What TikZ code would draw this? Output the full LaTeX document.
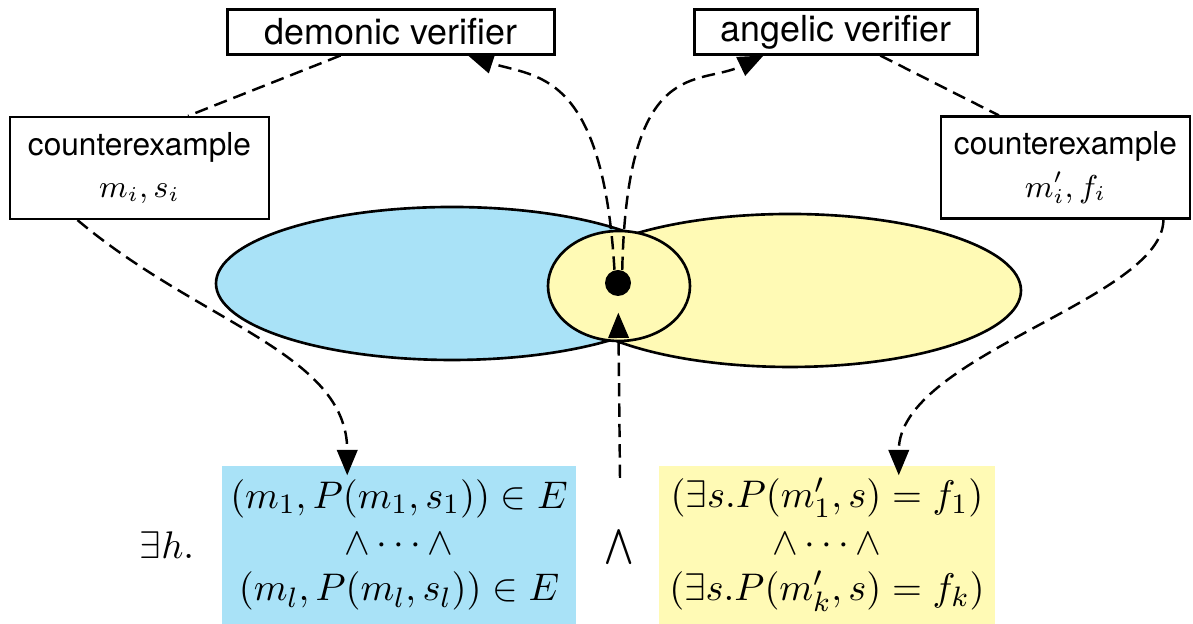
\documentclass[tikz,border=0pt]{standalone}
\usepackage{fontspec}
\setsansfont{TeX Gyre Heros}
\usetikzlibrary{arrows.meta}
\definecolor{setblue}{HTML}{A9E2F7}
\definecolor{setyellow}{HTML}{FFFAB5}

\begin{document}
\begin{tikzpicture}[
  x=0.1mm, y=0.1mm,
  vbox/.style={draw, line width=0.6pt, inner sep=0pt, minimum height=4.5mm,
               font=\fontsize{10.2}{12}\sffamily},
  cbox/.style={draw, line width=0.6pt, inner sep=0pt, align=center, minimum height=10.2mm,
               font=\fontsize{9}{12}\sffamily},
  formbox/.style={inner sep=0pt, align=center, minimum height=15.8mm,
                  font=\fontsize{10.95}{13.2}\selectfont},
  setline/.style={line width=0.75pt},
  dline/.style={line width=0.7pt, dash pattern=on 3.8pt off 2pt},
  dflow/.style={dline, -{Triangle[length=7.2pt, width=5.8pt]}}
]
\useasboundingbox (0,0) rectangle (1193,624);

% the two sets and their overlap
\draw[setline, fill=setblue]   (452,340.5) ellipse [x radius=236, y radius=76.5];
\draw[setline, fill=setyellow] (790,333.5) ellipse [x radius=231, y radius=76.5];
\draw[setline, fill=setyellow] (619,338)   ellipse [x radius=71, y radius=55];
\node[circle, fill, inner sep=0pt, minimum size=2.6mm] (dot) at (618,341) {};

\node[vbox, minimum width=32.7mm] (demonic) at (391,592) {demonic verifier};
\node[vbox, minimum width=28.3mm] (angelic) at (836,592) {angelic verifier};
\node[cbox, minimum width=25.9mm] (cexd) at (139.5,456) {counterexample\\$m_i, s_i$};
\node[cbox, minimum width=24.9mm] (cexa) at (1065.5,456.5) {counterexample\\$m'_i, f_i$};

% the formula
\node[formbox, fill=setblue, minimum width=35.4mm] (demform) at (399,79)
  {$(m_1, P(m_1, s_1)) \in E$\\$\wedge \cdots \wedge$\\$(m_l, P(m_l, s_l)) \in E$};
\node[formbox, fill=setyellow, minimum width=33.6mm] (angform) at (827,79)
  {$(\exists s. P(m'_1, s) = f_1)$\\$\wedge \cdots \wedge$\\$(\exists s. P(m'_k, s) = f_k)$};
\node[font=\fontsize{10.95}{13}\selectfont] (exh) at (167,79) {$\exists h.$};
\node[font=\fontsize{10.95}{13}\selectfont] (conj) at (619,77) {$\bigwedge$};
\coordinate (conjtop) at (620,146);

\draw[dline] (demonic.-155) -- (cexd.47);
\draw[dline] (angelic.-28) -- (cexa.142);
\draw[dflow] (dot.105) .. controls +(-12,201) and +(67,-22) .. (demonic.-17);
\draw[dflow] (dot.72) .. controls +(5,216) and +(-65,-31) .. (angelic.-162);
\draw[dflow, shorten >=-1mm] (cexd.-140) .. controls +(122,-103) and +(0,112) .. (demform.123);
\draw[dflow, shorten >=-1mm] (cexa.-28) .. controls +(0,-80) and +(0,110) .. (angform.48);
\draw[dflow, shorten >=1.6mm] (conjtop) -- (dot);
\end{tikzpicture}
\end{document}
